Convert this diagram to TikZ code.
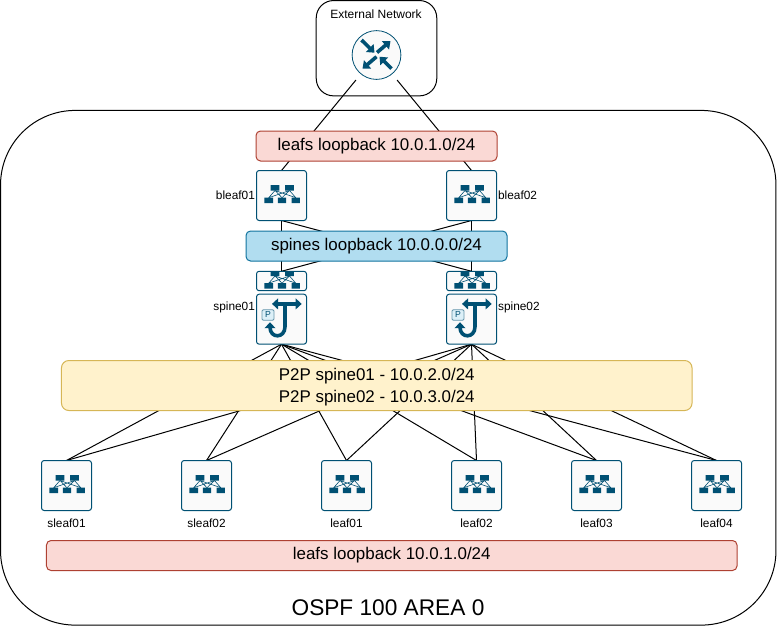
\documentclass[tikz,border=0pt]{standalone}
\usepackage{fontspec}
\setmainfont{Liberation Sans}
\usepackage{xcolor}
\usetikzlibrary{arrows.meta, positioning, backgrounds}
\definecolor{icondark}{HTML}{005073}
\definecolor{iconfill}{HTML}{FAFAFA}
\definecolor{redfill}{HTML}{FAD9D5}
\definecolor{reddraw}{HTML}{AE4132}
\definecolor{bluefill}{HTML}{B1DDF0}
\definecolor{bluedraw}{HTML}{10739E}
\definecolor{yellowfill}{HTML}{FFF2CC}
\definecolor{yellowdraw}{HTML}{D6B656}
\newcommand{\fabricglyph}[1]{%
  \begin{scope}[shift={(path picture bounding box.center)}, scale=#1, sharp corners]
    \draw[icondark, line width=0.45pt]
      (-6.5,-5) -- (-12.8,2.2) (-6.5,-5) -- (0.5,2.2) (-6.5,-5) -- (14.3,2.2)
      (8,-5) -- (-12.8,2.2) (8,-5) -- (0.5,2.2) (8,-5) -- (14.3,2.2);
    \fill[icondark] (-10.9,-10.5) rectangle (-2.1,-5) (3.6,-10.5) rectangle (12.4,-5);
    \fill[icondark] (-17.2,2.2) rectangle (-8.4,7.5) (-3.6,2.2) rectangle (4.6,7.5) (10.2,2.2) rectangle (18.4,7.5);
  \end{scope}}
\newcommand{\routingglyph}{%
  \begin{scope}[shift={(path picture bounding box.center)}, sharp corners]
    \draw[icondark, line width=2.7pt, {Triangle[length=4.5pt,width=8pt]}-{Triangle[length=4.5pt,width=8pt]}] (-9.5,-15.3) -- (20.2,-15.3);
    \draw[icondark, line width=2.7pt, -{Triangle[length=4.5pt,width=8pt]}] (3.5,-15.3) -- (3.5,7.5) .. controls (3.5,19.5) and (-11.5,19.5) .. (-11.5,8) -- (-11.5,3);
    \node (p_tag) [anchor=center, draw=icondark!60, fill=bluefill!45, rounded corners=1pt, line width=0.6pt, minimum width=9pt, minimum height=8pt, inner sep=0pt, text=icondark, font=\fontsize{6.5}{7}\selectfont] at (-13.5,-4.2) {P};
  \end{scope}}
\newcommand{\routerglyph}{%
  \begin{scope}[shift={(path picture bounding box.center)}, sharp corners]
    \draw[icondark, line width=0.6pt, fill=iconfill] (0,0) circle (18.3pt);
    \draw[icondark, line width=2.7pt, -{Triangle[length=5pt,width=8pt]}] (-15,-15) -- (-2,-2.3);
    \draw[icondark, line width=2.7pt, -{Triangle[length=5pt,width=8pt]}] (0.5,-2.5) -- (14,-14);
    \draw[icondark, line width=2.7pt, -{Triangle[length=5pt,width=8pt]}] (0,1.7) -- (-14,13.7);
    \draw[icondark, line width=2.7pt, -{Triangle[length=5pt,width=8pt]}] (15,13.7) -- (3,1.7);
  \end{scope}}
\tikzstyle{icon} = [rectangle, draw=icondark, fill=iconfill, line width=0.75pt, rounded corners=2pt, minimum width=37.5pt, minimum height=37.5pt, inner sep=0pt, outer sep=0pt]
\tikzstyle{fabric} = [icon, path picture={\fabricglyph{1}}]
\tikzstyle{fabricsmall} = [icon, minimum height=14.6pt, path picture={\fabricglyph{0.74}}]
\tikzstyle{routing} = [icon, path picture={\routingglyph}]
\tikzstyle{router} = [rectangle, minimum width=37.5pt, minimum height=37.5pt, inner sep=0pt, outer sep=0pt, path picture={\routerglyph}]
\tikzstyle{loopback} = [rectangle, rounded corners=3.4pt, line width=0.75pt, minimum height=22.5pt, inner sep=0pt, outer sep=0pt, align=center, font=\fontsize{12.7}{16.5}\selectfont]
\tikzstyle{small} = [inner sep=0pt, outer sep=0pt, font=\fontsize{8.9}{10}\selectfont]
\tikzstyle{link} = [line width=0.75pt, black]

\begin{document}
\begin{tikzpicture}[x=0.75pt, y=-0.75pt]
        \useasboundingbox (0,0) rectangle (777,626);
        \node (ospf_area) [draw, line width=0.75pt, rounded corners=56pt, minimum width=581.6pt, minimum height=386pt, inner sep=0pt, outer sep=0pt] at (388.25,367.75) {};
        \node (ospf_label) [inner sep=0pt, font=\fontsize{17}{20}\selectfont] at (388,608) {OSPF 100 AREA 0};
        \node (external) [draw, line width=0.75pt, rounded corners=13pt, minimum width=90.4pt, minimum height=71.5pt, inner sep=0pt, outer sep=0pt] at (376.5,48.2) {};
        \node (external_label) [small, font=\fontsize{9}{10}\selectfont] at (376,14) {External Network};
        \node (router) [router] at (376.5,55) {};

        \node (leafs_top) [loopback, fill=redfill, draw=reddraw, minimum width=180.75pt] at (376.5,146) {leafs loopback 10.0.1.0/24};
        \node (bleaf01) [fabric] at (281.5,195.5) {};
        \node (bleaf02) [fabric, right=105pt of bleaf01] {};
        \node (spines) [loopback, fill=bluefill, draw=bluedraw, minimum width=195.75pt] at (376.5,246) {spines loopback 10.0.0.0/24};
        \node (fabric01) [fabricsmall] at (281.5,281) {};
        \node (fabric02) [fabricsmall, right=105pt of fabric01] {};
        \node (spine01) [routing, below=2.6pt of fabric01] {};
        \node (spine02) [routing, below=2.6pt of fabric02] {};
        \node (p2p) [loopback, fill=yellowfill, draw=yellowdraw, rounded corners=5.5pt, minimum width=472.9pt, minimum height=37.5pt] at (376.75,385.5) {\rule{0pt}{11.5pt}P2P spine01 - 10.0.2.0/24\\P2P spine02 - 10.0.3.0/24};

        \node (sleaf01) [fabric] at (66.5,485.5) {};
        \node (sleaf02) [fabric, right=67.5pt of sleaf01] {};
        \node (leaf01) [fabric, right=67.5pt of sleaf02] {};
        \node (leaf02) [fabric, right=60pt of leaf01] {};
        \node (leaf03) [fabric, right=52.5pt of leaf02] {};
        \node (leaf04) [fabric, right=52.5pt of leaf03] {};
        \node (leafs_bottom) [loopback, fill=redfill, draw=reddraw, minimum width=517.9pt] at (391.75,555.5) {leafs loopback 10.0.1.0/24};

        \node (bleaf01_label) [small, left=1.2pt of bleaf01] {bleaf01};
        \node (bleaf02_label) [small, right=1.2pt of bleaf02] {bleaf02};
        \node (spine01_label) [small, left=1.2pt of spine01, yshift=9pt] {spine01};
        \node (spine02_label) [small, right=1.2pt of spine02, yshift=9pt] {spine02};
        \node (sleaf01_label) [small, below=6pt of sleaf01] {sleaf01};
        \node (sleaf02_label) [small, below=6pt of sleaf02] {sleaf02};
        \node (leaf01_label) [small, below=6pt of leaf01] {leaf01};
        \node (leaf02_label) [small, below=6pt of leaf02] {leaf02};
        \node (leaf03_label) [small, below=6pt of leaf03] {leaf03};
        \node (leaf04_label) [small, below=6pt of leaf04] {leaf04};

        \begin{pgfonlayer}{background}
        \draw[link] (bleaf01.north) -- (router);
        \draw[link] (bleaf02.north) -- (router);
        \draw[link] (bleaf01.south) -- (fabric01.north);
        \draw[link] (bleaf01.south) -- (fabric02.north);
        \draw[link] (bleaf02.south) -- (fabric01.north);
        \draw[link] (bleaf02.south) -- (fabric02.north);
        \draw[link] (spine01.south) -- (sleaf01.north);
        \draw[link] (spine01.south) -- (sleaf02.north);
        \draw[link] (spine01.south) -- (leaf01.north);
        \draw[link] (spine01.south) -- (leaf02.north);
        \draw[link] (spine01.south) -- (leaf03.north);
        \draw[link] (spine01.south) -- (leaf04.north);
        \draw[link] (spine02.south) -- (sleaf01.north);
        \draw[link] (spine02.south) -- (sleaf02.north);
        \draw[link] (spine02.south) -- (leaf01.north);
        \draw[link] (spine02.south) -- (leaf02.north);
        \draw[link] (spine02.south) -- (leaf03.north);
        \draw[link] (spine02.south) -- (leaf04.north);
        \end{pgfonlayer}
    \end{tikzpicture}
\end{document}
